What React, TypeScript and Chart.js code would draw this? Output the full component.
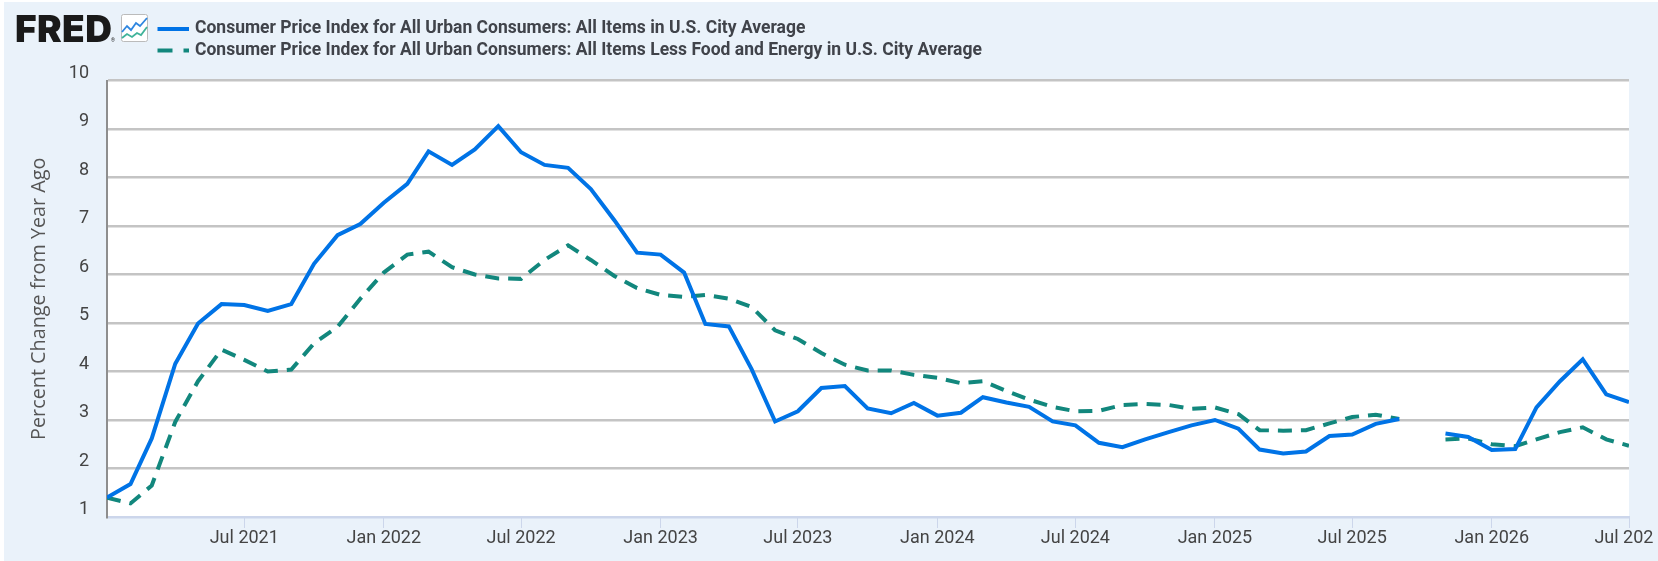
import React, { useEffect, useRef } from "react";
import { Chart, registerables } from "chart.js";

Chart.register(...registerables);

const startYear = 2021;
const allItems: (number | null)[] = [
  1.4, 1.68, 2.62, 4.16, 4.99, 5.39, 5.37, 5.25, 5.39, 6.22, 6.81, 7.04,
  7.48, 7.87, 8.54, 8.26, 8.58, 9.06, 8.52, 8.26, 8.2, 7.76, 7.12, 6.45,
  6.41, 6.04, 4.98, 4.93, 4.05, 2.97, 3.18, 3.66, 3.7, 3.24, 3.14, 3.35,
  3.09, 3.15, 3.47, 3.36, 3.27, 2.97, 2.89, 2.53, 2.44, 2.6, 2.75, 2.89,
  3.0, 2.82, 2.39, 2.31, 2.35, 2.67, 2.7, 2.92, 3.02, null, 2.72, 2.65,
  2.38, 2.4, 3.26, 3.8, 4.25, 3.53, 3.37,
];
const core: (number | null)[] = [
  1.4, 1.28, 1.65, 2.96, 3.8, 4.45, 4.24, 4.0, 4.04, 4.58, 4.92, 5.5,
  6.04, 6.41, 6.47, 6.15, 6.0, 5.92, 5.91, 6.3, 6.6, 6.3, 5.97, 5.72,
  5.58, 5.54, 5.58, 5.5, 5.33, 4.85, 4.67, 4.38, 4.14, 4.02, 4.02, 3.93,
  3.87, 3.76, 3.8, 3.6, 3.42, 3.27, 3.18, 3.19, 3.31, 3.33, 3.31, 3.23,
  3.26, 3.12, 2.79, 2.78, 2.79, 2.93, 3.06, 3.11, 3.02, null, 2.6, 2.62,
  2.5, 2.46, 2.6, 2.75, 2.85, 2.6, 2.47,
];
const xTicks: [number, number, string][] = [
  [2021, 6, "Jul 2021"], [2022, 0, "Jan 2022"], [2022, 6, "Jul 2022"],
  [2023, 0, "Jan 2023"], [2023, 6, "Jul 2023"], [2024, 0, "Jan 2024"],
  [2024, 6, "Jul 2024"], [2025, 0, "Jan 2025"], [2025, 6, "Jul 2025"],
  [2026, 0, "Jan 2026"], [2026, 6, "Jul 2026"],
];
const seriesNames = [
  "Consumer Price Index for All Urban Consumers: All Items in U.S. City Average",
  "Consumer Price Index for All Urban Consumers: All Items Less Food and Energy in U.S. City Average",
];
const blue = "#0073e6";
const green = "#12877d";
const font = "Roboto";

const monthTime = (i: number) => Date.UTC(startYear, i, 1);
const toPoints = (v: (number | null)[]) => v.map((y, i) => ({ x: monthTime(i), y }));

const frame = {
  id: "frame",
  beforeDraw(chart: any) {
    const { ctx, chartArea: a, width, height } = chart;
    ctx.save();
    ctx.fillStyle = "#eaf2fa";
    ctx.fillRect(4, 2, width - 4, height - 2);
    ctx.fillStyle = "#fff";
    ctx.fillRect(a.left, a.top, a.right - a.left, a.bottom - a.top);
    ctx.restore();
  },
  afterDraw(chart: any) {
    const { ctx, width, height } = chart;
    ctx.save();
    // the last tick label runs off the picture's right edge
    ctx.fillStyle = "#eaf2fa";
    ctx.fillRect(1654, 520, width - 1654, height - 520);
    // logo
    ctx.fillStyle = "#1a1a1a";
    ctx.textBaseline = "alphabetic";
    ctx.textAlign = "left";
    ctx.font = `900 37px Inter`;
    ctx.letterSpacing = "0.4px";
    ctx.fillText("FRED", 15, 41.5);
    ctx.letterSpacing = "0px";
    ctx.font = `400 5px ${font}`;
    ctx.fillText("®", 111, 41.5);
    // icon
    ctx.fillStyle = "#fff";
    ctx.strokeStyle = "#bbb";
    ctx.lineWidth = 1;
    ctx.beginPath();
    ctx.roundRect(121.5, 14.5, 26, 27, 2);
    ctx.fill();
    ctx.stroke();
    ctx.lineWidth = 1.8;
    ctx.strokeStyle = "#2f86e0";
    ctx.beginPath();
    [[122, 32], [127, 26], [131, 30], [136, 23], [140, 26], [147, 18]].forEach(([x, y], i) =>
      i ? ctx.lineTo(x, y) : ctx.moveTo(x, y));
    ctx.stroke();
    ctx.strokeStyle = "#3fb39a";
    ctx.beginPath();
    [[122, 38], [127, 34], [132, 37], [137, 33], [141, 35], [147, 27]].forEach(([x, y], i) =>
      i ? ctx.lineTo(x, y) : ctx.moveTo(x, y));
    ctx.stroke();
    // legend
    const rows = [29, 50.5];
    chart.data.datasets.forEach((d: any, i: number) => {
      ctx.strokeStyle = d.borderColor;
      ctx.lineWidth = 4;
      ctx.setLineDash(i ? [15, 11] : []);
      ctx.beginPath();
      ctx.moveTo(157.5, rows[i]);
      ctx.lineTo(189, rows[i]);
      ctx.stroke();
      ctx.setLineDash([]);
      ctx.fillStyle = "#40434a";
      ctx.textBaseline = "middle";
      ctx.font = `700 17.5px ${font}`;
      ctx.fillText(d.label, 195, rows[i]);
    });
    ctx.restore();
  },
};

export default function App() {
  const ref = useRef<HTMLCanvasElement>(null);
  useEffect(() => {
    document.body.style.margin = "0";
    const chart = new Chart(ref.current!, {
      type: "line",
      data: {
        datasets: [
          { label: seriesNames[0], data: toPoints(allItems), borderColor: blue, borderWidth: 4, pointRadius: 0, tension: 0, spanGaps: false },
          { label: seriesNames[1], data: toPoints(core), borderColor: green, borderWidth: 4, borderDash: [14, 9], pointRadius: 0, tension: 0, spanGaps: false },
        ],
      } as any,
      options: {
        animation: false,
        responsive: false,
        parsing: { xAxisKey: "x", yAxisKey: "y" },
        layout: { padding: { left: 27, right: 29, top: 80.5, bottom: 0 } },
        plugins: { legend: { display: false }, tooltip: { enabled: false } },
        scales: {
          x: {
            type: "linear",
            min: monthTime(0),
            max: monthTime(66),
            afterBuildTicks(axis: any) {
              axis.ticks = xTicks.map(([y, m]) => ({ value: Date.UTC(y, m, 1) }));
            },
            afterFit(axis: any) {
              axis.height = 44;
              axis.paddingLeft = 0;
              axis.paddingRight = 0;
            },
            ticks: {
              autoSkip: false,
              maxRotation: 0,
              padding: 0,
              color: "#444",
              font: { family: font, size: 18 },
              callback: (_v: any, i: number) => xTicks[i]?.[2] ?? "",
            },
            grid: { drawOnChartArea: false, drawTicks: true, tickLength: 11, tickColor: "#ccd6eb", tickWidth: 1 },
            border: { color: "#ccd6eb", width: 2 },
          },
          y: {
            min: 1,
            max: 10,
            afterFit(axis: any) {
              axis.width = 80;
            },
            title: {
              display: true,
              text: "Percent Change from Year Ago",
              color: "#555",
              font: { family: "'Open Sans'", size: 19.8 },
              padding: { top: 0, bottom: 0 },
            },
            ticks: {
              stepSize: 1,
              padding: 18,
              color: "#444",
              font: { family: font, size: 18, lineHeight: 0.8 },
              callback: (v: any) => [String(v), ""],
            },
            grid: {
              drawTicks: false,
              lineWidth: 2.5,
              color: (c: any) => (c.tick?.value === 1 ? "#ccd6eb" : "#c4c4c4"),
            },
            border: { color: "#8e8e8e", width: 2 },
          },
        },
      },
      plugins: [frame],
    } as any);
    return () => chart.destroy();
  }, []);
  return <canvas ref={ref} width={1658} height={561} style={{ display: "block", width: 1658, height: 561 }} />;
}
